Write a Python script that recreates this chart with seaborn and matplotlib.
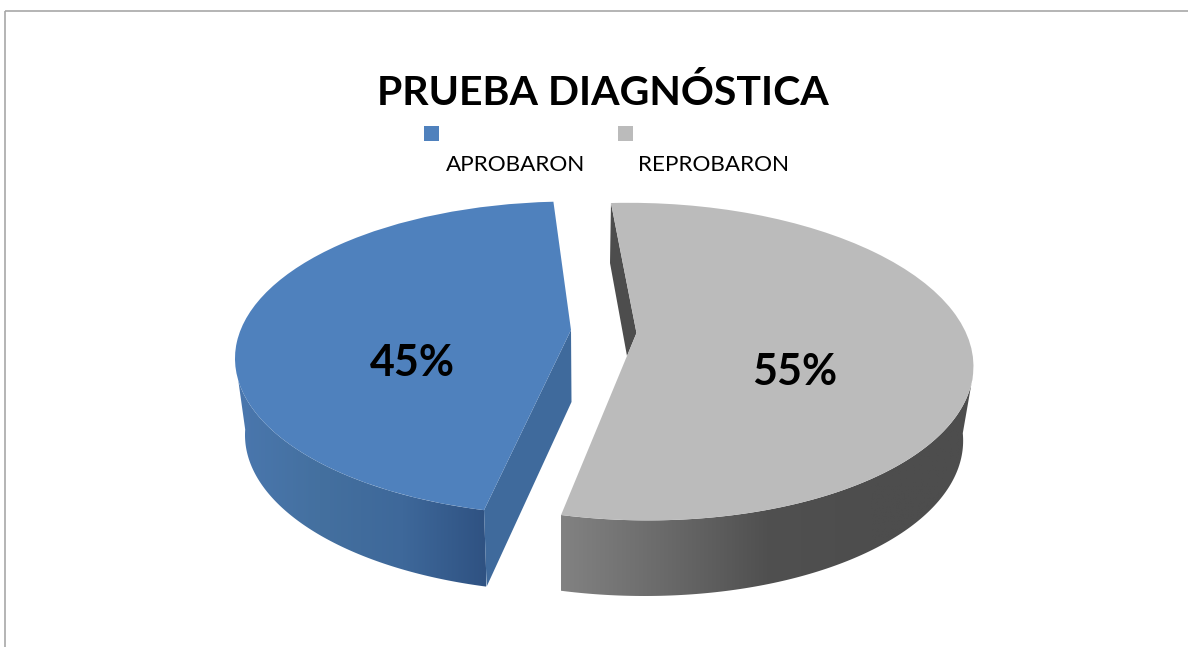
"""Exploded pseudo-3D pie of the diagnostic test results."""

import matplotlib
matplotlib.use("Agg")
import matplotlib.pyplot as plt
import numpy as np
import seaborn as sns
from matplotlib.patches import Polygon, Rectangle
from matplotlib.path import Path
from matplotlib.transforms import Affine2D

TITLE = "PRUEBA DIAGNÓSTICA"
CATEGORIES = ["APROBARON", "REPROBARON"]
PERCENTS = [45, 55]
TOP_COLORS = ["#4F81BD", "#BBBBBB"]

# ellipse geometry in reference pixels: cx, cy, rx, ry, shear
BLUE_TOP = (571, 358.5, 336, 157, 0)
BLUE_LOW = (571, 435, 326, 157, 0)
GRAY_TOP = (638.3, 361.6, 335, 158.8, -9.8)
GRAY_LOW = (635, 436, 328, 160, -9.6)
APEX = [(571, 330), (636.5, 333)]

sns.set_theme(style="white")
plt.rcParams["font.family"] = ["Lato", "DejaVu Sans"]

fig = plt.figure(figsize=(11.88, 6.47), dpi=100)
ax = fig.add_axes([0, 0, 1, 1])

wedges, _ = ax.pie(PERCENTS, colors=TOP_COLORS, startangle=93, radius=1,
                   wedgeprops={"zorder": 5, "edgecolor": "none", "linewidth": 0})


def rim(theta1, theta2, geom, n=120):
    cx, cy, rx, ry, s = geom
    t = np.radians(np.linspace(theta1, theta2, n))
    return np.column_stack([cx + rx * np.cos(t) + s * np.sin(t), cy - ry * np.sin(t)])


def gradient_wall(pts, colors, x0, x1):
    # horizontal shading clipped to the wall outline
    cmap = sns.blend_palette(colors, n_colors=256, as_cmap=True)
    y0, y1 = pts[:, 1].min(), pts[:, 1].max()
    img = ax.imshow(np.linspace(0, 1, 256)[None, :], cmap=cmap, aspect="auto",
                    extent=(x0, x1, y1, y0), zorder=2)
    clip = Polygon(pts, closed=True, transform=ax.transData, fill=False, edgecolor="none")
    ax.add_patch(clip)
    img.set_clip_path(clip)


# top faces: squash each pie wedge to its ellipse and pull the apex to the picture's
for w, geom, apex in zip(wedges, [BLUE_TOP, GRAY_TOP], APEX):
    cx, cy, rx, ry, s = geom
    w.set_transform(Affine2D(np.array([[rx, s, cx], [0, -ry, cy], [0, 0, 1.0]])) + ax.transData)
    uy = -(apex[1] - cy) / ry
    ux = (apex[0] - cx - s * uy) / rx
    path = w.get_path()
    verts = path.vertices.copy()
    verts[np.hypot(verts[:, 0], verts[:, 1]) < 1e-6] = (ux, uy)
    w._path = Path(verts, path.codes)

# outer walls
blue, gray = wedges
blue_wall = np.vstack([rim(188, blue.theta2, BLUE_TOP), rim(blue.theta2, 178, BLUE_LOW)])
gradient_wall(blue_wall, ["#4A77AE", "#44709F", "#3E689A", "#2F5282"], 237, 486)
gray_wall = np.vstack([rim(gray.theta1, 355, GRAY_TOP), rim(361, gray.theta1, GRAY_LOW)])
gradient_wall(gray_wall, ["#828282", "#6A6A6A", "#505050", "#4D4D4D", "#4D4D4D"], 561, 973)

# cut faces
b_end = rim(blue.theta2, blue.theta2, BLUE_TOP, 1)[0]
b_low = rim(blue.theta2, blue.theta2, BLUE_LOW, 1)[0]
ax.add_patch(Polygon([APEX[0], (571.5, 402), b_low, b_end], closed=True,
                     facecolor="#3F6A9C", edgecolor="none", zorder=3))
g_end = rim(gray.theta2, gray.theta2, GRAY_TOP, 1)[0]
ax.add_patch(Polygon([APEX[1], (627, 356), (610, 263), g_end], closed=True,
                     facecolor="#4D4D4D", edgecolor="none", zorder=3))

# percent labels
for pct, (x, y) in zip(PERCENTS, [(412, 363), (795, 372)]):
    ax.text(x, y, f"{pct}%", ha="center", va="center", fontsize=31, fontweight="bold",
            color="black", zorder=6)

ax.text(603, 93, TITLE, ha="center", va="center", fontsize=29.5, fontweight="bold", color="black")

# legend: swatch sits above and left of its label
for name, color, sx, tx in zip(CATEGORIES, TOP_COLORS, [424, 618], [516, 714]):
    ax.add_patch(Rectangle((sx, 126), 15, 15, facecolor=color, edgecolor="none"))
    ax.text(tx, 165, name, ha="center", va="center", fontsize=16.2, color="black")

# outer chart border, cropped at the right and bottom
ax.add_patch(Rectangle((5, 11), 1400, 800, fill=False, edgecolor="#A8A8A8", linewidth=1.2, zorder=1))

ax.set_aspect("auto")
ax.set_xlim(0, 1188)
ax.set_ylim(647, 0)
ax.axis("off")

fig.savefig("out.png", dpi=100)
